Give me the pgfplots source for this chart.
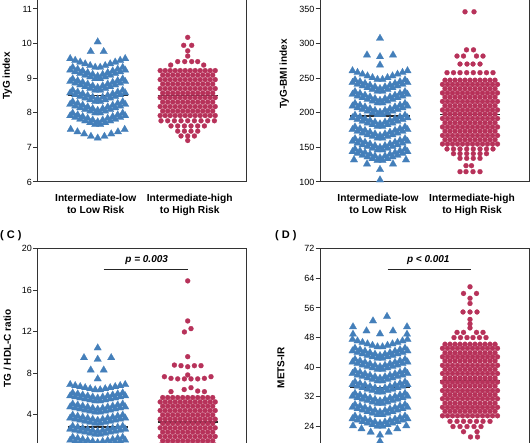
\documentclass[border=0pt]{standalone}
\usepackage{pgfplots}
\usepackage{pgfplotstable}
\pgfplotsset{compat=1.18}
\usepackage{fontspec}
\setmainfont{Liberation Sans}
\definecolor{cb}{RGB}{68,127,186}
\definecolor{cr}{RGB}{183,50,90}
\pgfplotsset{
  base/.style={scale only axis, width=209pt, height=207.6pt, anchor=south west},
  main/.style={base, xmin=-60, xmax=149,
    axis line style={black!80, line width=1pt},
    tick align=outside, tick pos=left, major tick length=4.5pt,
    ytick style={black!80, line width=1pt}, xtick style={draw=none},
    yticklabel style={font=\fontsize{9}{10}\selectfont, inner sep=1pt},
    /pgf/number format/assume math mode=true,
    xticklabel style={font=\bfseries\fontsize{10.2}{12}\selectfont, align=center, anchor=north, inner sep=0pt, yshift=-7.5pt},
    ylabel style={font=\bfseries\fontsize{10}{12}\selectfont, anchor=center}},
  ov/.style={base, xmin=-150, xmax=59, hide axis},
  bm/.style={only marks, mark=triangle*, mark size=4.3pt, mark options={fill=cb, draw=cb, line width=0.2pt}},
  rm/.style={only marks, mark=*, mark size=2.5pt, mark options={fill=cr, draw=cr, line width=0.2pt}},
  med/.style={black!85, line width=1.2pt, mark=none},
}
\begin{document}
% ---------- Panel A ----------
\pgfplotstableread{
x a b c d e f
-27.5 9.565 9.235 8.905 8.575 8.245 7.915
-22.5 9.515 9.185 8.855 8.525 8.195 7.865
-17.5 9.465 9.135 8.805 8.475 8.145 7.815
-12.5 9.415 9.085 8.755 8.425 8.095 7.765
-7.5 9.365 9.035 8.705 8.375 8.045 7.715
-2.5 9.315 8.985 8.655 8.325 7.995 7.665
2.5 9.315 8.985 8.655 8.325 7.995 7.665
7.5 9.365 9.035 8.705 8.375 8.045 7.715
12.5 9.415 9.085 8.755 8.425 8.095 7.765
17.5 9.465 9.135 8.805 8.475 8.145 7.815
22.5 9.515 9.185 8.855 8.525 8.195 7.865
27.5 9.565 9.235 8.905 8.575 8.245 7.915
-25 nan 9.31 8.98 8.65 8.32 7.99
-20 nan 9.26 8.93 8.60 8.27 7.94
-15 nan 9.21 8.88 8.55 8.22 7.89
-10 nan 9.16 8.83 8.50 8.17 7.84
-5 nan 9.11 8.78 8.45 8.12 7.79
0 nan 9.06 8.73 8.40 8.07 7.74
5 nan 9.11 8.78 8.45 8.12 7.79
10 nan 9.16 8.83 8.50 8.17 7.84
15 nan 9.21 8.88 8.55 8.22 7.89
20 nan 9.26 8.93 8.60 8.27 7.94
25 nan 9.31 8.98 8.65 8.32 7.99
}\tAb
\pgfplotstableread{
x a b c d e f
-27.5 7.92 8.18 8.44 8.70 8.96 9.22
-22.5 7.92 8.18 8.44 8.70 8.96 9.22
-17.5 7.92 8.18 8.44 8.70 8.96 9.22
-12.5 7.92 8.18 8.44 8.70 8.96 9.22
-7.5 7.92 8.18 8.44 8.70 8.96 9.22
-2.5 7.92 8.18 8.44 8.70 8.96 9.22
2.5 7.92 8.18 8.44 8.70 8.96 9.22
7.5 7.92 8.18 8.44 8.70 8.96 9.22
12.5 7.92 8.18 8.44 8.70 8.96 9.22
17.5 7.92 8.18 8.44 8.70 8.96 9.22
22.5 7.92 8.18 8.44 8.70 8.96 9.22
27.5 7.92 8.18 8.44 8.70 8.96 9.22
-25 8.05 8.31 8.57 8.83 9.09 nan
-20 8.05 8.31 8.57 8.83 9.09 nan
-15 8.05 8.31 8.57 8.83 9.09 nan
-10 8.05 8.31 8.57 8.83 9.09 nan
-5 8.05 8.31 8.57 8.83 9.09 nan
0 8.05 8.31 8.57 8.83 9.09 nan
5 8.05 8.31 8.57 8.83 9.09 nan
10 8.05 8.31 8.57 8.83 9.09 nan
15 8.05 8.31 8.57 8.83 9.09 nan
20 8.05 8.31 8.57 8.83 9.09 nan
25 8.05 8.31 8.57 8.83 9.09 nan
}\tAr
% ---------- Panel B ----------
\pgfplotstableread{
x a b c d e f g h
-27.5 260.75 243.75 226.75 209.75 192.75 175.75 158.75 143.75
-22.5 258.25 241.25 224.25 207.25 190.25 173.25 156.25 141.25
-17.5 255.75 238.75 221.75 204.75 187.75 170.75 153.75 138.75
-12.5 253.25 236.25 219.25 202.25 185.25 168.25 151.25 136.25
-7.5 250.75 233.75 216.75 199.75 182.75 165.75 148.75 133.75
-2.5 248.25 231.25 214.25 197.25 180.25 163.25 146.25 131.25
2.5 248.25 231.25 214.25 197.25 180.25 163.25 146.25 131.25
7.5 250.75 233.75 216.75 199.75 182.75 165.75 148.75 133.75
12.5 253.25 236.25 219.25 202.25 185.25 168.25 151.25 136.25
17.5 255.75 238.75 221.75 204.75 187.75 170.75 153.75 138.75
22.5 258.25 241.25 224.25 207.25 190.25 173.25 156.25 141.25
27.5 260.75 243.75 226.75 209.75 192.75 175.75 158.75 143.75
-25 nan 247.5 230.5 213.5 196.5 179.5 162.5 147.5
-20 nan 245 228 211 194 177 160 145
-15 nan 242.5 225.5 208.5 191.5 174.5 157.5 142.5
-10 nan 240 223 206 189 172 155 140
-5 nan 237.5 220.5 203.5 186.5 169.5 152.5 137.5
0 nan 235 218 201 184 167 150 135
5 nan 237.5 220.5 203.5 186.5 169.5 152.5 137.5
10 nan 240 223 206 189 172 155 140
15 nan 242.5 225.5 208.5 191.5 174.5 157.5 142.5
20 nan 245 228 211 194 177 160 145
25 nan 247.5 230.5 213.5 196.5 179.5 162.5 147.5
}\tBb
\pgfplotstableread{
x a b c d e f g h
-27.5 154.9 167.2 179.5 191.8 204.1 216.4 228.7 241.0
-22.5 154.9 167.2 179.5 191.8 204.1 216.4 228.7 241.0
-17.5 154.9 167.2 179.5 191.8 204.1 216.4 228.7 241.0
-12.5 154.9 167.2 179.5 191.8 204.1 216.4 228.7 241.0
-7.5 154.9 167.2 179.5 191.8 204.1 216.4 228.7 241.0
-2.5 154.9 167.2 179.5 191.8 204.1 216.4 228.7 241.0
2.5 154.9 167.2 179.5 191.8 204.1 216.4 228.7 241.0
7.5 154.9 167.2 179.5 191.8 204.1 216.4 228.7 241.0
12.5 154.9 167.2 179.5 191.8 204.1 216.4 228.7 241.0
17.5 154.9 167.2 179.5 191.8 204.1 216.4 228.7 241.0
22.5 154.9 167.2 179.5 191.8 204.1 216.4 228.7 241.0
27.5 154.9 167.2 179.5 191.8 204.1 216.4 228.7 241.0
-25 161.1 173.4 185.7 198.0 210.3 222.6 234.9 247.1
-20 161.1 173.4 185.7 198.0 210.3 222.6 234.9 247.1
-15 161.1 173.4 185.7 198.0 210.3 222.6 234.9 247.1
-10 161.1 173.4 185.7 198.0 210.3 222.6 234.9 247.1
-5 161.1 173.4 185.7 198.0 210.3 222.6 234.9 247.1
0 161.1 173.4 185.7 198.0 210.3 222.6 234.9 247.1
5 161.1 173.4 185.7 198.0 210.3 222.6 234.9 247.1
10 161.1 173.4 185.7 198.0 210.3 222.6 234.9 247.1
15 161.1 173.4 185.7 198.0 210.3 222.6 234.9 247.1
20 161.1 173.4 185.7 198.0 210.3 222.6 234.9 247.1
25 161.1 173.4 185.7 198.0 210.3 222.6 234.9 247.1
}\tBr
% ---------- Panel C ----------
\pgfplotstableread{
x a b c d e f
-27.5 6.90 5.82 4.75 3.68 2.61 1.54
-22.5 6.80 5.72 4.65 3.58 2.51 1.44
-17.5 6.70 5.62 4.55 3.48 2.41 1.34
-12.5 6.60 5.52 4.45 3.38 2.31 1.24
-7.5 6.50 5.42 4.35 3.28 2.21 1.14
-2.5 6.40 5.32 4.25 3.18 2.11 1.04
2.5 6.40 5.32 4.25 3.18 2.11 1.04
7.5 6.50 5.42 4.35 3.28 2.21 1.14
12.5 6.60 5.52 4.45 3.38 2.31 1.24
17.5 6.70 5.62 4.55 3.48 2.41 1.34
22.5 6.80 5.72 4.65 3.58 2.51 1.44
27.5 6.90 5.82 4.75 3.68 2.61 1.54
-25 nan 6.10 5.03 3.96 2.89 1.82
-20 nan 6.00 4.93 3.86 2.79 1.72
-15 nan 5.90 4.83 3.76 2.69 1.62
-10 nan 5.80 4.73 3.66 2.59 1.52
-5 nan 5.70 4.63 3.56 2.49 1.42
0 nan 5.60 4.53 3.46 2.39 1.32
5 nan 5.70 4.63 3.56 2.49 1.42
10 nan 5.80 4.73 3.66 2.59 1.52
15 nan 5.90 4.83 3.76 2.69 1.62
20 nan 6.00 4.93 3.86 2.79 1.72
25 nan 6.10 5.03 3.96 2.89 1.82
}\tCb
\pgfplotstableread{
x a b c d e f
-27.5 1.07 1.90 2.73 3.57 4.40 5.23
-22.5 1.07 1.90 2.73 3.57 4.40 5.23
-17.5 1.07 1.90 2.73 3.57 4.40 5.23
-12.5 1.07 1.90 2.73 3.57 4.40 5.23
-7.5 1.07 1.90 2.73 3.57 4.40 5.23
-2.5 1.07 1.90 2.73 3.57 4.40 5.23
2.5 1.07 1.90 2.73 3.57 4.40 5.23
7.5 1.07 1.90 2.73 3.57 4.40 5.23
12.5 1.07 1.90 2.73 3.57 4.40 5.23
17.5 1.07 1.90 2.73 3.57 4.40 5.23
22.5 1.07 1.90 2.73 3.57 4.40 5.23
27.5 1.07 1.90 2.73 3.57 4.40 5.23
-25 1.48 2.32 3.15 3.98 4.82 5.65
-20 1.48 2.32 3.15 3.98 4.82 5.65
-15 1.48 2.32 3.15 3.98 4.82 5.65
-10 1.48 2.32 3.15 3.98 4.82 5.65
-5 1.48 2.32 3.15 3.98 4.82 5.65
0 1.48 2.32 3.15 3.98 4.82 5.65
5 1.48 2.32 3.15 3.98 4.82 5.65
10 1.48 2.32 3.15 3.98 4.82 5.65
15 1.48 2.32 3.15 3.98 4.82 5.65
20 1.48 2.32 3.15 3.98 4.82 5.65
25 1.48 2.32 3.15 3.98 4.82 5.65
}\tCr
% ---------- Panel D ----------
\pgfplotstableread{
x a b c d e f g h
-27.5 47.5 44.4 41.4 38.3 35.3 32.2 29.2 26.1
-22.5 47.1 44.0 41.0 37.9 34.9 31.8 28.8 25.7
-17.5 46.7 43.6 40.6 37.5 34.5 31.4 28.4 25.3
-12.5 46.3 43.2 40.2 37.1 34.1 31.0 28.0 24.9
-7.5 45.9 42.8 39.8 36.7 33.7 30.6 27.6 24.5
-2.5 45.5 42.4 39.4 36.3 33.3 30.2 27.2 24.1
2.5 45.5 42.4 39.4 36.3 33.3 30.2 27.2 24.1
7.5 45.9 42.8 39.8 36.7 33.7 30.6 27.6 24.5
12.5 46.3 43.2 40.2 37.1 34.1 31.0 28.0 24.9
17.5 46.7 43.6 40.6 37.5 34.5 31.4 28.4 25.3
22.5 47.1 44.0 41.0 37.9 34.9 31.8 28.8 25.7
27.5 47.5 44.4 41.4 38.3 35.3 32.2 29.2 26.1
-25 nan 45.13 42.13 39.03 36.03 32.93 29.93 26.83
-20 nan 44.73 41.73 38.63 35.63 32.53 29.53 26.43
-15 nan 44.33 41.33 38.23 35.23 32.13 29.13 26.03
-10 nan 43.93 40.93 37.83 34.83 31.73 28.73 25.63
-5 nan 43.53 40.53 37.43 34.43 31.33 28.33 25.23
0 nan 43.13 40.13 37.03 34.03 30.93 27.93 24.83
5 nan 43.53 40.53 37.43 34.43 31.33 28.33 25.23
10 nan 43.93 40.93 37.83 34.83 31.73 28.73 25.63
15 nan 44.33 41.33 38.23 35.23 32.13 29.13 26.03
20 nan 44.73 41.73 38.63 35.63 32.53 29.53 26.43
25 nan 45.13 42.13 39.03 36.03 32.93 29.93 26.83
}\tDb
\pgfplotstableread{
x a b c d e f g h i
-27.5 26.9 29.2 31.5 33.7 36.0 38.3 40.5 42.8 45.1
-22.5 26.9 29.2 31.5 33.7 36.0 38.3 40.5 42.8 45.1
-17.5 26.9 29.2 31.5 33.7 36.0 38.3 40.5 42.8 45.1
-12.5 26.9 29.2 31.5 33.7 36.0 38.3 40.5 42.8 45.1
-7.5 26.9 29.2 31.5 33.7 36.0 38.3 40.5 42.8 45.1
-2.5 26.9 29.2 31.5 33.7 36.0 38.3 40.5 42.8 45.1
2.5 26.9 29.2 31.5 33.7 36.0 38.3 40.5 42.8 45.1
7.5 26.9 29.2 31.5 33.7 36.0 38.3 40.5 42.8 45.1
12.5 26.9 29.2 31.5 33.7 36.0 38.3 40.5 42.8 45.1
17.5 26.9 29.2 31.5 33.7 36.0 38.3 40.5 42.8 45.1
22.5 26.9 29.2 31.5 33.7 36.0 38.3 40.5 42.8 45.1
27.5 26.9 29.2 31.5 33.7 36.0 38.3 40.5 42.8 45.1
-25 28.1 30.3 32.6 34.9 37.1 39.4 41.7 43.9 46.2
-20 28.1 30.3 32.6 34.9 37.1 39.4 41.7 43.9 46.2
-15 28.1 30.3 32.6 34.9 37.1 39.4 41.7 43.9 46.2
-10 28.1 30.3 32.6 34.9 37.1 39.4 41.7 43.9 46.2
-5 28.1 30.3 32.6 34.9 37.1 39.4 41.7 43.9 46.2
0 28.1 30.3 32.6 34.9 37.1 39.4 41.7 43.9 46.2
5 28.1 30.3 32.6 34.9 37.1 39.4 41.7 43.9 46.2
10 28.1 30.3 32.6 34.9 37.1 39.4 41.7 43.9 46.2
15 28.1 30.3 32.6 34.9 37.1 39.4 41.7 43.9 46.2
20 28.1 30.3 32.6 34.9 37.1 39.4 41.7 43.9 46.2
25 28.1 30.3 32.6 34.9 37.1 39.4 41.7 43.9 46.2
}\tDr
\begin{tikzpicture}
\useasboundingbox (0,0) rectangle (530pt,442pt);
\clip (0,0) rectangle (530pt,442pt);
% ===== A =====
\begin{axis}[main, at={(37.7pt,260pt)}, ymin=6, ymax=12, ytick={6,7,8,9,10,11},
  xtick={-2,92}, xticklabels={{Intermediate-low\\to Low Risk},{Intermediate-high\\to High Risk}},
  ylabel={TyG index}, ylabel style={at={(axis description cs:-0.1455,0.51)}}]
  \pgfplotsinvokeforeach{a,b,c,d,e,f}{\addplot[bm] table[x=x,y=#1]{\tAb};}
  \addplot[bm] coordinates {(0,10.05)(-7,9.77)(6,9.77)(-27,7.52)(-20.25,7.45)(-13.5,7.39)(-6.75,7.32)(0,7.27)(6.75,7.32)(13.5,7.39)(20.25,7.45)(27,7.52)};
  \addplot[med] coordinates {(-30,8.49)(30,8.49)};
\end{axis}
\begin{axis}[ov, at={(37.7pt,260pt)}, ymin=6, ymax=12]
  \pgfplotsinvokeforeach{a,b,c,d,e,f}{\addplot[rm] table[x=x,y=#1]{\tAr};}
  \addplot[rm] coordinates {(0,10.18)(-4,9.95)(4,9.95)(0,9.79)(0,9.64)(-17,9.38)(-10,9.48)(-3,9.48)(4,9.48)(10,9.48)(16,9.38)
    (-26.7,7.77)(-20,7.77)(-13.3,7.77)(-6.7,7.77)(0,7.77)(6.7,7.77)(13.3,7.77)(20,7.77)(26.7,7.77)
    (-16.7,7.62)(-10,7.62)(-3.3,7.62)(3.3,7.62)(10,7.62)(16.7,7.62)
    (-10,7.47)(-3.3,7.47)(3.3,7.47)(10,7.47)(-6.7,7.33)(0,7.33)(6.7,7.33)(0,7.20)};
  \addplot[med] coordinates {(-30,8.49)(30,8.49)};
\end{axis}
% ===== B =====
\begin{axis}[main, at={(320pt,260pt)}, ymin=100, ymax=400, ytick={100,150,...,350},
  xtick={-2,92}, xticklabels={{Intermediate-low\\to Low Risk},{Intermediate-high\\to High Risk}},
  ylabel={TyG-BMI index}, ylabel style={at={(axis description cs:-0.171,0.521)}}]
  \pgfplotsinvokeforeach{a,b,c,d,e,f,g,h}{\addplot[bm] table[x=x,y=#1]{\tBb};}
  \addplot[bm] coordinates {(0,307.6)(-13,283.5)(0,281)(13,283.5)(0,269)(-26,132)(-13,126)(0,118)(13,126)(26,132)(0,103)};
  \addplot[med] coordinates {(-30,195.4)(30,195.4)};
\end{axis}
\begin{axis}[ov, at={(320pt,260pt)}, ymin=100, ymax=400]
  \pgfplotsinvokeforeach{a,b,c,d,e,f,g,h}{\addplot[rm] table[x=x,y=#1]{\tBr};}
  \addplot[rm] coordinates {(-5,346)(4,346)(-3.5,291)(3.5,291)(-13,282)(-6.5,282)(6.5,282)(13,282)
    (-10,270.5)(-3,270.5)(3,270.5)(10,270.5)(-23,258)(-16.5,258)(-10,258)(-3.3,258)(3.3,258)(10,258)(16.5,258)(23,258)
    (-23,147.7)(-16.5,147.7)(-10,147.7)(-3.3,147.7)(3.3,147.7)(10,147.7)(16.5,147.7)(23,147.7)
    (-16.5,141)(-10,141)(-3.3,141)(3.3,141)(10,141)(16.5,141)
    (-10,134.2)(-3.3,134.2)(3.3,134.2)(10,134.2)(-4,123.6)(1.5,123.6)
    (-10,114.9)(-4,114.9)(3,114.9)(10,114.9)};
  \addplot[med] coordinates {(-30,197.8)(30,197.8)};
\end{axis}
% ===== C =====
\begin{axis}[main, at={(37.7pt,-14.2pt)}, ymin=0, ymax=20, ytick={4,8,...,20}, xtick=\empty,
  ylabel={TG / HDL-C ratio}, ylabel style={at={(axis description cs:-0.1455,0.519)}}]
  \pgfplotsinvokeforeach{a,b,c,d,e,f}{\addplot[bm] table[x=x,y=#1]{\tCb};}
  \addplot[bm] coordinates {(0,10.43)(-13.7,9.49)(0,9.34)(13.5,9.49)(-7,8.30)(6,8.30)(0,7.45)};
  \addplot[med] coordinates {(-30,2.81)(30,2.81)};
  \addplot[black!85, line width=0.9pt] coordinates {(6,18.01)(90,18.01)};
  \node[font=\bfseries\itshape\fontsize{10}{12}\selectfont] at (axis cs:49,18.91) {p = 0.003};
\end{axis}
\begin{axis}[ov, at={(37.7pt,-14.2pt)}, ymin=0, ymax=20]
  \pgfplotsinvokeforeach{a,b,c,d,e,f}{\addplot[rm] table[x=x,y=#1]{\tCr};}
  \addplot[rm] coordinates {(0,16.89)(0,13.03)(-3.3,11.97)(3.3,12.29)(0,9.59)
    (-13.3,8.78)(-6.7,8.72)(0,8.62)(6.7,8.72)(13.3,8.72)(0,7.83)
    (-23.3,7.66)(-16.7,7.50)(-10,7.45)(-3.3,7.45)(3.3,7.45)(10,7.45)(16.7,7.50)(23.3,7.66)
    (-16.7,6.22)(-3.5,6.42)(3.3,6.6)(10,6.28)(16.7,6.22)};
  \addplot[med] coordinates {(-30,3.30)(30,3.30)};
\end{axis}
% ===== D =====
\begin{axis}[main, at={(320pt,-14.2pt)}, ymin=16, ymax=72, ytick={24,32,...,72}, xtick=\empty,
  ylabel={METS-IR}, ylabel style={at={(axis description cs:-0.187,0.4265)}}]
  \pgfplotsinvokeforeach{a,b,c,d,e,f,g,h}{\addplot[bm] table[x=x,y=#1]{\tDb};}
  \addplot[bm] coordinates {(7,53.7)(-7,52.5)(-27,50.9)(27,50.9)(-13.5,49.8)(13,49.8)(0,49.0)(-27,48.9)(27,48.9)
    (-27,24.2)(-18.5,23.4)(-9.3,22.5)(0,21.7)(8.7,22.5)(17.3,23.4)(26.3,24.2)(0,20.0)};
  \addplot[med] coordinates {(-30,34.5)(30,34.5)};
  \addplot[black!85, line width=0.9pt] coordinates {(7.7,66.44)(90.7,66.44)};
  \node[font=\bfseries\itshape\fontsize{10}{12}\selectfont] at (axis cs:48.3,68.87) {p < 0.001};
\end{axis}
\begin{axis}[ov, at={(320pt,-14.2pt)}, ymin=16, ymax=72]
  \pgfplotsinvokeforeach{a,b,c,d,e,f,g,h,i}{\addplot[rm] table[x=x,y=#1]{\tDr};}
  \addplot[rm] coordinates {(0,61.7)(-6.5,59.9)(6.5,59.9)(0,58.6)(0,57.2)(-7,54.9)(0,54.9)(7,54.9)(0,52.9)(0,51.7)(0,50.6)
    (-13,49.4)(-6.5,49.4)(6.5,49.4)(13,49.4)(-16,48.0)(-9.5,48.0)(-3,48.0)(3,48.0)(9.5,48.0)(16,48.0)
    (-20,25.4)(-13,25.4)(-6.5,25.4)(0,25.4)(6.5,25.4)(13,25.4)(20,25.4)
    (-17,24.0)(-10,24.0)(-3,24.0)(4,24.0)(11,24.0)(-6.5,22.6)(7,22.6)(0.5,21.2)(7.5,21.2)};
  \addplot[med] coordinates {(-30,36.4)(30,36.4)};
\end{axis}
\node[anchor=west, inner sep=0pt, font=\bfseries\fontsize{11}{13}\selectfont] at (0pt,206pt) {( C )};
\node[anchor=west, inner sep=0pt, font=\bfseries\fontsize{11}{13}\selectfont] at (275pt,206pt) {( D )};
\end{tikzpicture}
\end{document}
